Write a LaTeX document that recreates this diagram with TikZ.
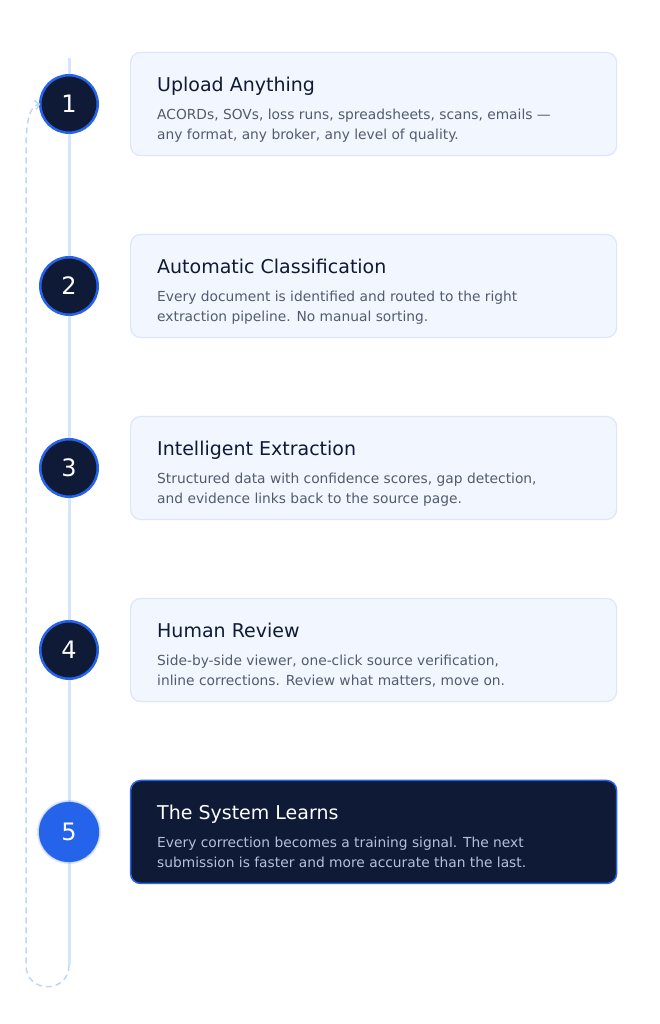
\documentclass[tikz,border=0pt]{standalone}
\usepackage{fontspec}
\setmainfont{DejaVu Sans}
\usetikzlibrary{calc}
\usetikzlibrary{positioning}
\usetikzlibrary{arrows.meta}
\definecolor{navy}{HTML}{0F1A36}
\definecolor{accent}{HTML}{2563EB}
\definecolor{rail}{HTML}{D6E4FD}
\definecolor{loopblue}{HTML}{BFD6FB}
\definecolor{cardfill}{HTML}{F2F6FE}
\definecolor{cardline}{HTML}{DCE7FB}
\definecolor{bodygrey}{HTML}{525C6E}
\definecolor{bodylight}{HTML}{B4C1DC}

\begin{document}
\begin{tikzpicture}[x=1pt, y=1pt,
    stepdot/.style={circle, draw=accent, line width=2.5pt, fill=navy, text=white, minimum size=57.5pt, inner sep=0pt, outer sep=0pt, font=\fontsize{24}{24}\selectfont},
    card/.style={draw=cardline, line width=1.2pt, fill=cardfill, rounded corners=10pt, minimum width=486pt, minimum height=103pt, inner sep=0pt, outer sep=0pt},
    ttl/.style={anchor=base west, inner sep=0pt, text=navy, font=\fontsize{19}{19}\selectfont},
    desc/.style={anchor=base west, inner sep=0pt, align=left, text=bodygrey, font=\fontsize{13.8}{20}\selectfont}]
    \useasboundingbox (0,0) rectangle (660,1024);
    \fill[white] (0,0) rectangle (660,1024);

    % Rail
    \coordinate (railtop) at (69,966);
    \coordinate (railend) at (69,59);
    \draw[rail, line width=3pt] (railtop) -- (railend);

    % Steps
    \node[stepdot] (step1) at (69,920) {1};
    \node[stepdot] (step2) at (69,738) {2};
    \node[stepdot] (step3) at (69,556) {3};
    \node[stepdot] (step4) at (69,374) {4};
    \coordinate (glow5) at (69,192);
    \fill[accent, opacity=0.15] (glow5) circle (32pt);
    \fill[accent, opacity=0.35] (glow5) circle (30.5pt);
    \node[stepdot, fill=accent, draw=accent, line width=1pt, minimum size=59pt] (step5) at (glow5) {5};

    % Cards
    \node[card, right=32.85pt of step1] (card1) {};
    \node[card, right=32.85pt of step2] (card2) {};
    \node[card, right=32.85pt of step3] (card3) {};
    \node[card, right=32.85pt of step4] (card4) {};
    \node[card, right=32.85pt of step4, fill=navy, draw=accent, line width=1.5pt, yshift=-182pt] (card5) {};

    % Texts
    \node[ttl] (title1) at ($(card1.north west)+(26.4,-39.2)$) {Upload Anything};
    \node[desc] (desc1) at ($(card1.north west)+(26.4,-87.2)$) {ACORDs, SOVs, loss runs, spreadsheets, scans, emails —\\any format, any broker, any level of quality.};
    \node[ttl] (title2) at ($(card2.north west)+(26.4,-39.2)$) {Automatic Classification};
    \node[desc] (desc2) at ($(card2.north west)+(26.4,-87.2)$) {Every document is identified and routed to the right\\extraction pipeline. No manual sorting.};
    \node[ttl] (title3) at ($(card3.north west)+(26.4,-39.2)$) {Intelligent Extraction};
    \node[desc] (desc3) at ($(card3.north west)+(26.4,-87.2)$) {Structured data with confidence scores, gap detection,\\and evidence links back to the source page.};
    \node[ttl] (title4) at ($(card4.north west)+(26.4,-39.2)$) {Human Review};
    \node[desc] (desc4) at ($(card4.north west)+(26.4,-87.2)$) {Side-by-side viewer, one-click source verification,\\inline corrections. Review what matters, move on.};
    \node[ttl, text=white] (title5) at ($(card5.north west)+(26.4,-39.2)$) {The System Learns};
    \node[desc, text=bodylight] (desc5) at ($(card5.north west)+(26.4,-87.2)$) {Every correction becomes a training signal. The next\\submission is faster and more accurate than the last.};

    % Loop back
    \draw[loopblue, line width=1.5pt, dash pattern=on 6pt off 4pt, -{Straight Barb[length=4pt,width=9pt]}]
        (railend) .. controls (69,30) and (26,30) .. (26,59) -- (26,874)
        .. controls (26,904) and (30,918) .. (step1.west);
\end{tikzpicture}
\end{document}
